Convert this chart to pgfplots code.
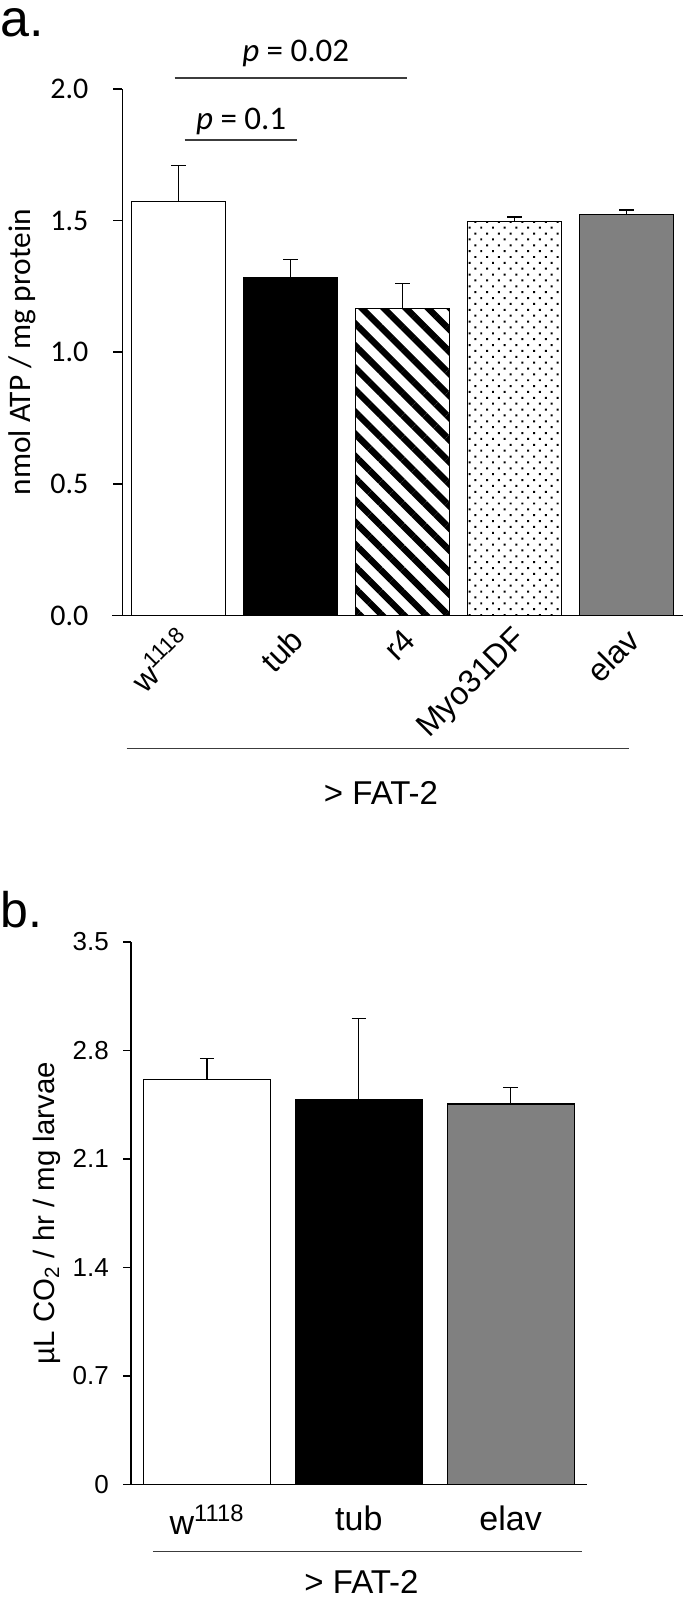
\documentclass[border=0pt]{standalone}
\usepackage{pgfplots}
\pgfplotsset{compat=1.18}
\usepackage{fontspec}
\setmainfont{Liberation Sans}
\newfontfamily\carlito{Carlito}
\usetikzlibrary{patterns.meta}
\definecolor{elavgray}{RGB}{128,128,128}
\definecolor{linegray}{RGB}{60,60,60}

\pgfplotsset{
  barpanel/.style={
    scale only axis, anchor=south west, clip=false,
    axis x line*=bottom, axis y line*=left,
    axis line style={line width=0.8pt, -},
    xtick={0,1,2,3,4}, major x tick style={draw=none},
    y tick style={line width=0.8pt, black},
    tick align=outside,
    ybar, bar shift=0pt,
    /pgf/number format/fixed, /pgf/number format/precision=1,
    /pgf/number format/assume math mode=true,
    error bars/y dir=plus, error bars/y explicit,
    error bars/error bar style={line width=0.6pt, black},
    error bars/error mark options={rotate=90, mark size=3.6pt, line width=0.6pt, black},
  },
}

\begin{document}
\begin{tikzpicture}
\useasboundingbox (0,0) rectangle (342.5pt,800.5pt);

% ---- panel a: ATP ----
\begin{axis}[barpanel,
  at={(61.2pt,492.65pt)}, width=280.1pt, height=263.4pt,
  xmin=-0.5, xmax=4.5, ymin=0, ymax=2,
  x axis line style={shorten <=-5pt},
  ytick={0,0.5,1,1.5,2}, major tick length=4.5pt,
  /pgf/number format/fixed zerofill,
  yticklabel style={font=\carlito\fontsize{15}{15}\selectfont, xshift=-9pt},
  xticklabels={w\textsuperscript{1118}, tub, r4, Myo31DF, elav},
  xticklabel style={rotate=45, anchor=east, xshift=2.5pt, yshift=-6pt,
    font=\fontsize{16}{16}\selectfont},
  ylabel={nmol ATP / mg protein},
  every axis y label/.style={at={(rel axis cs:0,0.5)}, xshift=-50.2pt, rotate=90,
    anchor=center, font=\carlito\fontsize{15.7}{15.7}\selectfont},
  bar width=0.838,
]
\addplot[draw=black, line width=0.6pt, fill=white] coordinates {(0,1.571) +- (0,0.139)};
\addplot[draw=black, line width=0.6pt, fill=black] coordinates {(1,1.284) +- (0,0.069)};
\addplot[draw=black, line width=0.6pt, pattern={Lines[angle=-45,distance=7.8pt,line width=3.2pt]}] coordinates {(2,1.165) +- (0,0.097)};
\addplot[draw=black, line width=0.6pt, pattern={Dots[angle=45,distance=4.15pt,radius=0.7pt]}] coordinates {(3,1.498) +- (0,0.016)};
\addplot[draw=black, line width=0.6pt, fill=elavgray] coordinates {(4,1.523) +- (0,0.017)};
% significance brackets
\draw[linegray, line width=0.6pt] (axis cs:-0.034,2.041) -- (axis cs:2.038,2.041);
\node[anchor=base, inner sep=0, font=\carlito\fontsize{16.5}{16.5}\selectfont] at (axis cs:1.047,2.103) {\textit{p} = 0.02};
\draw[linegray, line width=0.6pt] (axis cs:0.056,1.806) -- (axis cs:1.056,1.806);
\node[anchor=base, inner sep=0, font=\carlito\fontsize{16.5}{16.5}\selectfont] at (axis cs:0.56,1.844) {\textit{p} = 0.1};
\end{axis}

% ---- panel b: CO2 ----
\begin{axis}[barpanel,
  at={(65.55pt,58.35pt)}, width=227.75pt, height=271.15pt,
  xmin=-0.5, xmax=2.5, ymin=0, ymax=3.5,
  x axis line style={shorten <=-3.75pt},
  ytick={0,0.7,1.4,2.1,2.8,3.5}, major tick length=4pt,
  yticklabel style={font=\fontsize{13}{13}\selectfont, xshift=-3.6pt},
  xtick={0,1,2},
  xticklabels={w\textsuperscript{1118}, tub, elav},
  xticklabel style={font=\fontsize{17}{17}\selectfont, yshift=-3pt},
  ylabel={µL CO\textsubscript{2} / hr / mg larvae},
  every axis y label/.style={at={(rel axis cs:0,0.5)}, xshift=-42.05pt, rotate=90,
    anchor=center, font=\fontsize{14.7}{14.7}\selectfont},
  bar width=0.836,
]
\addplot[draw=black, line width=0.6pt, fill=white] coordinates {(0,2.614) +- (0,0.136)};
\addplot[draw=black, line width=0.6pt, fill=black] coordinates {(1,2.486) +- (0,0.522)};
\addplot[draw=black, line width=0.6pt, fill=elavgray] coordinates {(2,2.455) +- (0,0.108)};
\end{axis}

% panel letters and driver brackets
\node[anchor=base west, inner sep=0, font=\fontsize{26}{26}\selectfont] at (0pt,782pt) {a.};
\node[anchor=base west, inner sep=0, font=\fontsize{25}{25}\selectfont] at (0pt,336.5pt) {b.};
\draw[linegray, line width=0.6pt] (63.35pt,426.35pt) -- (314.5pt,426.35pt);
\node[anchor=base, inner sep=0, font=\fontsize{16.5}{16.5}\selectfont] at (190.5pt,398pt) {> FAT-2};
\draw[linegray, line width=0.6pt] (76.45pt,24.65pt) -- (291.2pt,24.65pt);
\node[anchor=base, inner sep=0, font=\fontsize{16.5}{16.5}\selectfont] at (180.75pt,4pt) {> FAT-2};
\end{tikzpicture}
\end{document}
